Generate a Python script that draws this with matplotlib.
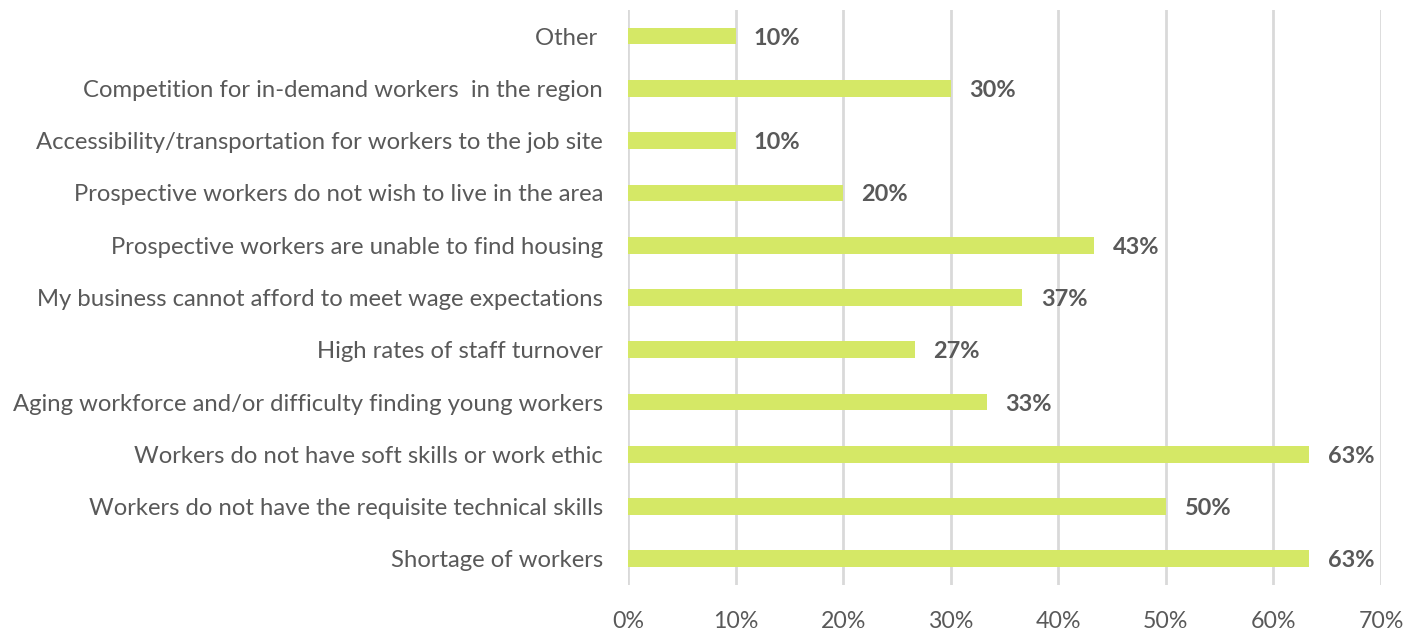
import matplotlib.pyplot as plt
import numpy as np

# survey results, share of respondents (n=30), listed bottom to top
categories = [
    "Shortage of workers",
    "Workers do not have the requisite technical skills",
    "Workers do not have soft skills or work ethic",
    "Aging workforce and/or difficulty finding young workers",
    "High rates of staff turnover",
    "My business cannot afford to meet wage expectations",
    "Prospective workers are unable to find housing",
    "Prospective workers do not wish to live in the area",
    "Accessibility/transportation for workers to the job site",
    "Competition for in-demand workers  in the region",
    "Other ",
]
shares = [63.33, 50.0, 63.33, 33.33, 26.67, 36.67, 43.33, 20.0, 10.0, 30.0, 10.0]
x_ticks = [0, 10, 20, 30, 40, 50, 60, 70]

BAR_COLOR = '#D5E866'
TEXT_COLOR = '#595959'
GRID_COLOR = '#D9D9D9'

plt.rcParams['font.family'] = ['Lato', 'DejaVu Sans']

fig = plt.figure(figsize=(14.18, 6.32), dpi=100)
ax = fig.add_axes([0.4429, 0.0744, 0.531, 0.9098])

y = np.arange(len(categories))
ax.barh(y, shares, height=0.32, color=BAR_COLOR, zorder=3)

# value labels just past the end of each bar
for yi, val in zip(y, shares):
    ax.text(val + 1.7, yi, f"{val:.0f}%", va='center_baseline', ha='left',
            fontsize=16.9, fontweight='bold', color=TEXT_COLOR)

ax.set_xlim(0, 70)
ax.set_ylim(-0.5, len(categories) - 0.5)
ax.set_xticks(x_ticks)
ax.set_xticklabels([f"{t}%" for t in x_ticks])
ax.set_yticks(y)
ax.set_yticklabels(categories)

ax.grid(axis='x', color=GRID_COLOR, linewidth=2, zorder=0)
for side in ['top', 'right', 'bottom', 'left']:
    ax.spines[side].set_visible(False)
ax.tick_params(axis='both', length=0, labelcolor=TEXT_COLOR)
ax.tick_params(axis='y', labelsize=17.2, pad=18)
ax.tick_params(axis='x', labelsize=16.7, pad=19)

fig.savefig('out.png', dpi=100)
